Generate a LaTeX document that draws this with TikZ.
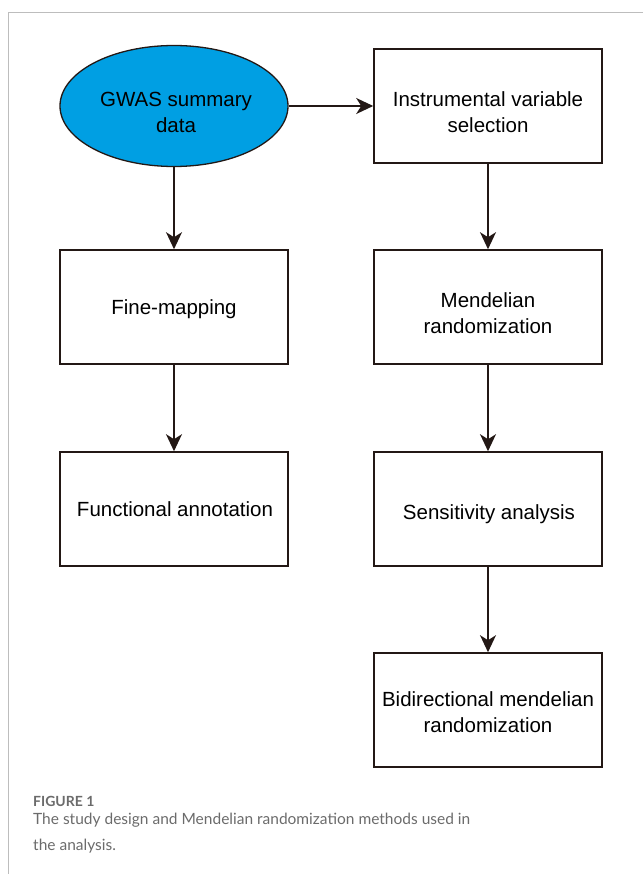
\documentclass[tikz,border=0pt]{standalone}
\usepackage{fontspec}
\setmainfont{Liberation Sans}
\newfontfamily\capfont{Lato}
\usetikzlibrary{arrows.meta,shapes.geometric}
\definecolor{gwasblue}{HTML}{009FE3}
\definecolor{edgec}{HTML}{231815}
\definecolor{framec}{HTML}{BDBDBD}
\definecolor{capc}{HTML}{6B6B6B}
\begin{document}
\begin{tikzpicture}[x=1pt,y=-1pt,
  stepbox/.style={draw=edgec,line width=1.6pt,minimum width=228pt,minimum height=114pt,inner sep=0pt},
  oval/.style={ellipse,draw=edgec,fill=gwasblue,line width=1.3pt,minimum width=228pt,minimum height=121pt,inner sep=0pt},
  boxtext/.style={anchor=base,inner sep=0pt,align=center,font=\fontsize{20.5}{26}\selectfont},
  arr/.style={draw=edgec,line width=1.4pt,-{Stealth[length=17pt,width=16pt,inset=5pt]}}]
\useasboundingbox (0,0) rectangle (643,874);
\draw[framec,line width=1pt] (643,12.5) -- (8,12.5) -- (8,874);
\node[oval] (gwas) at (174,106) {};
\node[stepbox] (iv) at (488,106) {};
\node[stepbox] (fm) at (174,307) {};
\node[stepbox] (fa) at (174,509) {};
\node[stepbox] (mr) at (488,307) {};
\node[stepbox] (sa) at (488,509) {};
\node[stepbox] (bd) at (488,710) {};
\node[boxtext] (gwast) at (176,133) {GWAS summary\\data};
\node[boxtext] (ivt) at (488,133) {Instrumental variable\\selection};
\node[boxtext] (fmt) at (174,314) {Fine-mapping};
\node[boxtext] (fat) at (175,516) {Functional annotation};
\node[boxtext] (mrt) at (488,333) {Mendelian\\randomization};
\node[boxtext] (sat) at (489,519) {Sensitivity analysis};
\node[boxtext] (bdt) at (488,732) {Bidirectional mendelian\\randomization};
\draw[arr] (gwas) -- (iv);
\draw[arr] (gwas) -- (fm);
\draw[arr] (fm) -- (fa);
\draw[arr] (iv) -- (mr);
\draw[arr] (mr) -- (sa);
\draw[arr] (sa) -- (bd);
\node[anchor=base west,inner sep=0pt,text=capc,font=\capfont\bfseries\fontsize{14}{16}\selectfont] (figlab) at (33,806) {FIGURE 1};
\node[anchor=base west,inner sep=0pt,text=capc,align=left,font=\capfont\fontsize{15.5}{25.5}\selectfont] (cap) at (33,850) {The study design and Mendelian randomization methods used in\\the analysis.};
\end{tikzpicture}
\end{document}
